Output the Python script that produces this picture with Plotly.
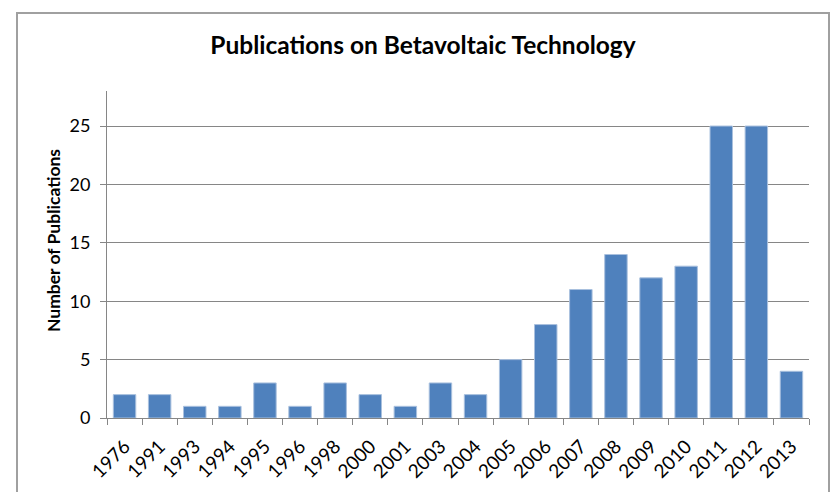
import plotly.graph_objects as go

# Publication counts per year
years = ["1976", "1991", "1993", "1994", "1995", "1996", "1998", "2000", "2001", "2003",
         "2004", "2005", "2006", "2007", "2008", "2009", "2010", "2011", "2012", "2013"]
publications = [2, 2, 1, 1, 3, 1, 3, 2, 1, 3, 2, 5, 8, 11, 14, 12, 13, 25, 25, 4]
y_ticks = [0, 5, 10, 15, 20, 25]

L, R, T, B = 107, 23, 91, 74
W, H = 832, 492
pw, ph = W - L - R, H - T - B

def px(x):
    return (x - L) / pw

def py(y):
    return (H - B - y) / ph

fig = go.Figure(go.Bar(
    x=years, y=publications,
    marker=dict(color="#4F81BD", line=dict(color="#A9C0DE", width=1)),
))

fig.update_layout(
    width=W, height=H,
    margin=dict(l=L, r=R, t=T, b=B),
    paper_bgcolor="white", plot_bgcolor="white",
    bargap=0.36,
    showlegend=False,
    font=dict(family="Lato, Open Sans, sans-serif", color="#000000"),
    title=dict(text="<b>Publications on Betavoltaic Technology</b>",
               x=px(423), xref="paper", xanchor="center",
               y=1 - 45 / H, yanchor="middle",
               font=dict(size=24.5, family="Lato, sans-serif", color="#000000")),
    xaxis=dict(
        type="category", tickangle=-45, automargin=False,
        ticks="outside", tickson="boundaries", ticklen=6, tickcolor="#868686",
        showline=True, linecolor="#868686", linewidth=1,
        showgrid=False, tickfont=dict(size=19), ticklabelstandoff=9,
    ),
    yaxis=dict(
        range=[0, 28], tickvals=y_ticks, automargin=False,
        ticks="outside", ticklen=6, tickcolor="#868686",
        showline=True, linecolor="#868686", linewidth=1,
        showgrid=True, gridcolor="#868686", gridwidth=1,
        zeroline=False, tickfont=dict(size=18), ticklabelstandoff=6,
    ),
    annotations=[dict(text="<b>Number of Publications</b>", textangle=-90,
                      xref="paper", yref="paper", x=px(53), y=py(241),
                      xanchor="center", yanchor="middle", showarrow=False,
                      font=dict(size=17.5))],
    shapes=[dict(type="rect", xref="paper", yref="paper",
                 x0=px(17), x1=px(829), y0=py(500), y1=py(13),
                 line=dict(color="#A0A0A0", width=2), fillcolor="rgba(0,0,0,0)",
                 layer="below")],
)

fig.write_html("out.html")
